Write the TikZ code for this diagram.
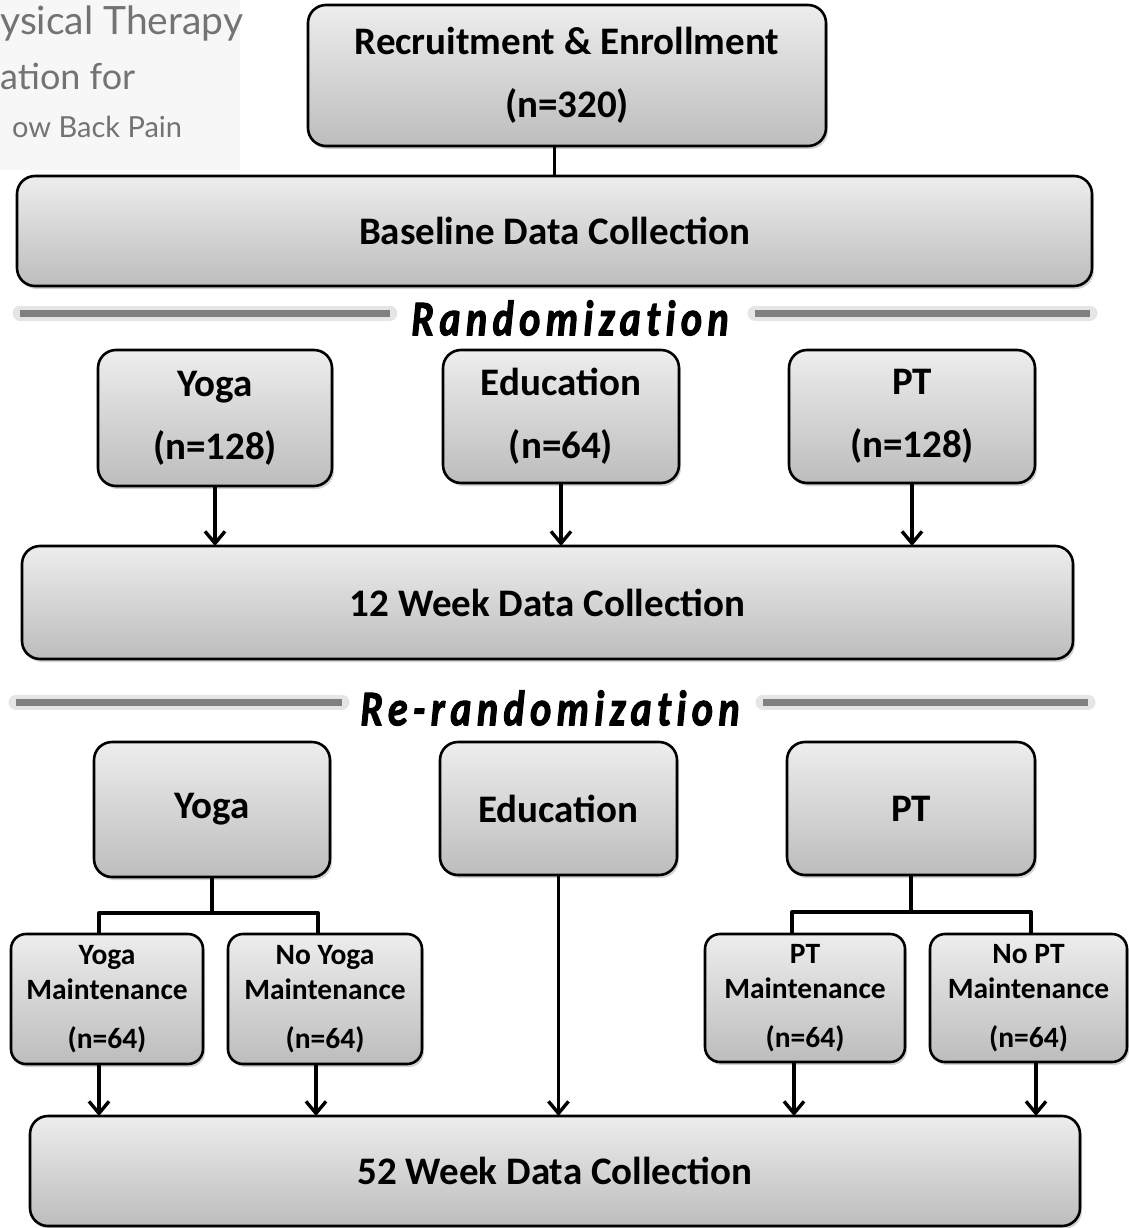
\documentclass[tikz,border=0pt]{standalone}
\usepackage{fontspec}
\setmainfont{Carlito}
\newfontfamily\headfont{Lato}
\newfontfamily\randfont[LetterSpace=11,FakeStretch=0.8,FakeBold=2,RawFeature=-liga]{Carlito}
\usetikzlibrary{arrows.meta,shadows}
\tikzset{
	stage/.style={draw,line width=2.6pt,rounded corners=18pt,top color=black!7,bottom color=black!26,
		drop shadow={shadow xshift=2pt,shadow yshift=-3pt,opacity=0.35},inner sep=0pt,outer sep=0pt,
		align=center,font=\bfseries\fontsize{39}{63}\selectfont},
	arm/.style={stage,rounded corners=15pt,font=\bfseries\fontsize{29.5}{35}\selectfont},
	link/.style={line width=3.4pt},
	flow/.style={link,-{Straight Barb[length=12pt,width=20pt,line width=3.4pt]}},
	bar/.style={line width=7pt,black!50},
	barglow/.style={line width=15pt,black!10,line cap=round},
	banner/.style={inner sep=0pt,font=\randfont\bfseries\itshape\fontsize{50}{50}\selectfont},
	head/.style={inner sep=0pt,text=black!55,font=\headfont},
}
\begin{document}
\begin{tikzpicture}[x=1pt,y=-1pt,line join=round]
	\useasboundingbox (0,0) rectangle (1128,1228);
	% title corner
	\fill[black!3] (0,0) rectangle (240,170);
	\node[head,anchor=base west,font=\headfont\fontsize{39}{39}\selectfont] (t1) at (0,35) {ysical Therapy};
	\node[head,anchor=base west,font=\headfont\fontsize{36}{36}\selectfont] (t2) at (0,90) {ation for};
	\node[head,anchor=base west,font=\headfont\fontsize{29}{29}\selectfont] (t3) at (12,137) {ow Back Pain};
	% enrollment
	\node[stage,minimum width=518pt,minimum height=141pt] (rec) at (567,75.5) {Recruitment \& Enrollment\\(n=320)};
	\node[stage,minimum width=1075pt,minimum height=110pt] (base) at (554.5,231) {Baseline Data Collection};
	\draw[link] (base.north) -- (base.north |- rec.south);
	% randomization
	\draw[barglow] (20,313) -- (390,313) (755,313) -- (1090,313);
	\draw[bar] (20,313) -- (390,313) (755,313) -- (1090,313);
	\node[banner] (rand) at (570,318) {Randomization};
	\node[stage,minimum width=234pt,minimum height=136pt] (yoga) at (215,418) {Yoga\\(n=128)};
	\node[stage,minimum width=236pt,minimum height=133pt] (edu) at (561,416.5) {Education\\(n=64)};
	\node[stage,minimum width=246pt,minimum height=133pt] (pt) at (912,416.5) {PT\\(n=128)};
	\node[stage,minimum width=1051pt,minimum height=113pt] (wk12) at (547.5,602.5) {12 Week Data Collection};
	\foreach \g in {yoga,edu,pt}
		\draw[flow] (\g.south) -- (\g.south |- wk12.north);
	% re-randomization
	\draw[barglow] (16,702) -- (342,702) (763,702) -- (1088,702);
	\draw[bar] (16,702) -- (342,702) (763,702) -- (1088,702);
	\node[banner] (rerand) at (550,708) {Re-randomization};
	\node[stage,minimum width=236pt,minimum height=135pt] (yogaB) at (212,809.5) {Yoga};
	\node[stage,minimum width=237pt,minimum height=133pt] (eduB) at (558.5,808.5) {Education};
	\node[stage,minimum width=248pt,minimum height=133pt] (ptB) at (911,808.5) {PT};
	\node[arm,minimum width=192pt,minimum height=130pt] (yogaM) at (107,999) {Yoga\\Maintenance\\[14pt](n=64)};
	\node[arm,minimum width=194pt,minimum height=130pt] (noyogaM) at (325,999) {No Yoga\\Maintenance\\[14pt](n=64)};
	\node[arm,minimum width=200pt,minimum height=128pt] (ptM) at (805,998) {PT\\Maintenance\\[14pt](n=64)};
	\node[arm,minimum width=197pt,minimum height=128pt] (noptM) at (1028.5,998) {No PT\\Maintenance\\[14pt](n=64)};
	\node[stage,minimum width=1050pt,minimum height=110pt] (wk52) at (555,1171) {52 Week Data Collection};
	% forks
	\draw[link] (yogaB.south) -- ++(0,36) coordinate (yfork);
	\draw[link] ([xshift=-8pt]yogaM.north) |- (yfork) -| ([xshift=-7pt]noyogaM.north);
	\draw[link] (ptB.south) -- ++(0,37) coordinate (pfork);
	\draw[link] ([xshift=-13pt]ptM.north) |- (pfork) -| ([xshift=2.5pt]noptM.north);
	% to 52 weeks
	\draw[flow] ([xshift=-8pt]yogaM.south) -- ([xshift=-8pt]yogaM.south |- wk52.north);
	\draw[flow] ([xshift=-9pt]noyogaM.south) -- ([xshift=-9pt]noyogaM.south |- wk52.north);
	\draw[flow] (eduB.south) -- (eduB.south |- wk52.north);
	\draw[flow] ([xshift=-11pt]ptM.south) -- ([xshift=-11pt]ptM.south |- wk52.north);
	\draw[flow] ([xshift=7.5pt]noptM.south) -- ([xshift=7.5pt]noptM.south |- wk52.north);
\end{tikzpicture}
\end{document}
